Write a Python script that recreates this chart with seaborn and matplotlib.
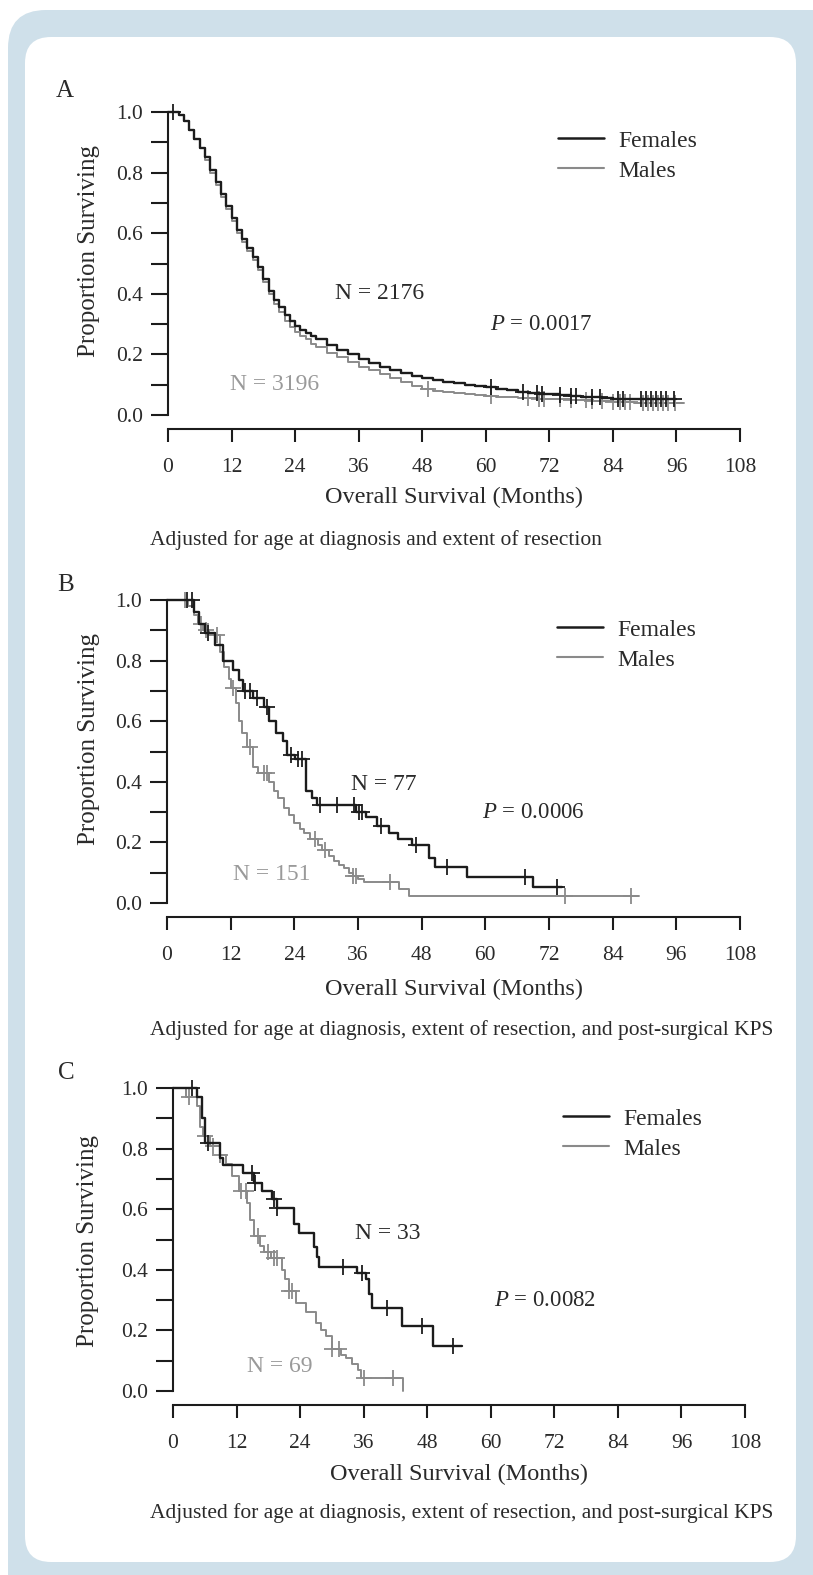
import numpy as np
import pandas as pd
import matplotlib
matplotlib.use("Agg")
import matplotlib.pyplot as plt
import seaborn as sns
from matplotlib.lines import Line2D
from matplotlib.patches import FancyBboxPatch
from matplotlib.transforms import IdentityTransform

# ---- data (months, proportion surviving) ----
# Panel A
A_F_t = [0, 2, 3, 4, 5, 6, 7, 8, 9, 10, 11, 12, 13, 14, 15, 16, 17, 18, 19, 20, 21, 22, 23, 24, 25, 26, 27, 28,
         30, 32, 34, 36, 38, 40, 42, 44, 46, 48, 50, 52, 54, 56, 58, 60, 62, 64, 66, 68, 70, 72, 74, 76, 78, 80,
         82, 84, 96]
A_F_s = [1.0, 0.99, 0.97, 0.94, 0.91, 0.88, 0.85, 0.81, 0.77, 0.73, 0.69, 0.65, 0.61, 0.58, 0.55, 0.52, 0.49,
         0.45, 0.41, 0.38, 0.355, 0.33, 0.31, 0.295, 0.28, 0.27, 0.26, 0.25,
         0.23, 0.215, 0.20, 0.185, 0.172, 0.16, 0.148, 0.137, 0.13, 0.123, 0.117, 0.11, 0.104, 0.099, 0.095,
         0.091, 0.087, 0.082, 0.077, 0.073, 0.070, 0.068, 0.066, 0.063, 0.060, 0.058, 0.055, 0.053, 0.053]
A_F_cens = [1, 61, 67, 69.6, 70.6, 74, 76, 77, 80, 81.5, 85, 86, 89.3, 90.3, 91.2, 92.2, 93.1, 94.1, 95.6]
A_M_t = [0, 2, 3, 4, 5, 6, 7, 8, 9, 10, 11, 12, 13, 14, 15, 16, 17, 18, 19, 20, 21, 22, 23, 24, 25, 26, 27, 28,
         30, 32, 34, 36, 38, 40, 42, 44, 46, 48, 50, 52, 54, 56, 58, 60, 62, 64, 66, 68, 70, 72,
         76, 80, 84, 88, 97.5]
A_M_s = [1.0, 0.99, 0.97, 0.94, 0.91, 0.88, 0.84, 0.80, 0.76, 0.72, 0.68, 0.64, 0.60, 0.57, 0.54, 0.51, 0.48,
         0.44, 0.40, 0.365, 0.34, 0.31, 0.29, 0.275, 0.26, 0.25, 0.235, 0.225,
         0.205, 0.19, 0.175, 0.16, 0.147, 0.135, 0.122, 0.109, 0.097, 0.085, 0.079, 0.075, 0.072, 0.068, 0.065,
         0.062, 0.060, 0.058, 0.057, 0.056, 0.054, 0.052,
         0.050, 0.046, 0.042, 0.040, 0.040]
A_M_cens = [49, 61, 68, 70, 71, 74, 76, 79, 80, 82, 84, 85.3, 86.2, 87.2, 89.6, 90.6, 91.5, 92.5, 93.4, 94.4, 95.8]

# Panel B
B_F_t = [0, 5.0, 6.0, 7.2, 9.0, 10.5, 12.5, 13.5, 14.3, 16.2, 18.2, 19.3, 20.5, 21.8, 22.6, 24.2, 26.2, 27.4,
         28.2, 35.7, 37.5, 39.5, 41.8, 43.6, 46.2, 49.3, 50.5, 56.6, 69.0, 74.5]
B_F_s = [1.0, 0.96, 0.92, 0.89, 0.85, 0.80, 0.77, 0.735, 0.70, 0.675, 0.647, 0.60, 0.56, 0.535, 0.49, 0.475,
         0.37, 0.345, 0.325, 0.30, 0.285, 0.255, 0.23, 0.21, 0.19, 0.15, 0.12, 0.086, 0.053, 0.053]
B_F_cens = [3.7, 4.7, 7.8, 14.7, 15.7, 17, 18.9, 23.3, 24.6, 25.5, 28.9, 32, 35.2, 36.1, 36.7, 40.3, 47,
            52.7, 67.5, 73.6]
B_M_t = [0, 4.0, 5.0, 5.8, 6.8, 8.0, 10.0, 10.8, 11.6, 12.0, 13.0, 13.6, 14.2, 15.0, 16.2, 17.2, 19.2, 20.1,
         21.0, 22.0, 23.0, 23.9, 25.0, 25.8, 27.0, 28.4, 29.2, 30.5, 31.5, 32.5, 33.4, 34.3, 35.0, 36.0, 37.2,
         43.8, 45.6, 88.9]
B_M_s = [1.0, 0.98, 0.95, 0.92, 0.90, 0.885, 0.83, 0.78, 0.74, 0.71, 0.66, 0.60, 0.56, 0.515, 0.45, 0.43,
         0.40, 0.37, 0.345, 0.315, 0.29, 0.265, 0.245, 0.23, 0.21, 0.19, 0.175, 0.155, 0.14, 0.125, 0.115,
         0.10, 0.09, 0.08, 0.07, 0.045, 0.022, 0.022]
B_M_cens = [3.4, 6.5, 7.4, 9.4, 12.4, 15.7, 18.2, 18.9, 27.9, 29.8, 35.0, 35.6, 42.0, 75.0, 87.4]

# Panel C
C_F_t = [0, 4.5, 5.4, 6.1, 8.9, 9.5, 13.3, 15.2, 16.8, 18.7, 19.7, 22.8, 23.8, 26.6, 27.2, 27.6, 34.8, 36.5,
         37.0, 37.5, 43.2, 49.0, 54.5]
C_F_s = [1.0, 0.97, 0.90, 0.82, 0.77, 0.745, 0.72, 0.686, 0.66, 0.635, 0.605, 0.55, 0.52, 0.475, 0.443, 0.41,
         0.39, 0.37, 0.32, 0.275, 0.215, 0.147, 0.147]
C_F_cens = [3.6, 6.7, 14.9, 15.5, 19.0, 19.7, 32.1, 35.6, 40.4, 47.0, 52.8]
C_M_t = [0, 2.5, 4.5, 5.1, 5.7, 7.0, 8.8, 10.0, 11.2, 12.5, 14.0, 14.6, 15.2, 16.5, 17.2, 18.5, 20.6, 21.2,
         21.9, 23.2, 25.1, 27.0, 28.0, 28.9, 30.0, 31.8, 32.7, 33.8, 34.9, 35.5, 43.4]
C_M_s = [1.0, 0.97, 0.94, 0.87, 0.84, 0.81, 0.78, 0.75, 0.71, 0.66, 0.62, 0.565, 0.51, 0.48, 0.46, 0.44, 0.40,
         0.37, 0.33, 0.29, 0.26, 0.225, 0.20, 0.18, 0.14, 0.12, 0.11, 0.09, 0.07, 0.043, 0.0]
C_M_cens = [3.0, 6.1, 7.5, 8.8, 12.8, 13.7, 16.1, 17.9, 19.0, 19.7, 21.9, 22.5, 30.0, 31.4, 36.0, 41.5]

n_females = ["N = 2176", "N = 77", "N = 33"]
n_males = ["N = 3196", "N = 151", "N = 69"]
p_values = ["0.0017", "0.0006", "0.0082"]
captions = ["Adjusted for age at diagnosis and extent of resection",
            "Adjusted for age at diagnosis, extent of resection, and post-surgical KPS",
            "Adjusted for age at diagnosis, extent of resection, and post-surgical KPS"]
x_ticks = list(range(0, 109, 12))
y_ticks = [0.0, 0.2, 0.4, 0.6, 0.8, 1.0]

# ---- style ----
sns.set_style("ticks")
plt.rcParams['font.family'] = ['Liberation Serif', 'DejaVu Serif']
plt.rcParams['mathtext.fontset'] = 'custom'
plt.rcParams['mathtext.rm'] = 'Liberation Serif'
plt.rcParams['mathtext.it'] = 'Liberation Serif:italic'

BLACK = '#1c1c1c'
GRAY = '#8a8a8a'
TEXT = '#2a2a2a'
BLUE = '#cfe0ea'

W, H = 813, 1575
fig = plt.figure(figsize=(W / 100, H / 100), dpi=100)
fig.patch.set_facecolor('white')

# rounded frame (pixel coords, origin bottom-left)
fig.add_artist(FancyBboxPatch((8, -60), 900, H - 10 + 60, boxstyle="round,pad=0,rounding_size=38",
                              transform=IdentityTransform(), facecolor=BLUE, edgecolor='none', zorder=-20))
fig.add_artist(FancyBboxPatch((25, H - 1562), 771, 1525, boxstyle="round,pad=0,rounding_size=26",
                              transform=IdentityTransform(), facecolor='white', edgecolor='none', zorder=-19))


def px_rect(x0, y0, x1, y1):
    return [x0 / W, 1 - y1 / H, (x1 - x0) / W, (y1 - y0) / H]


def km_at(t, s, c):
    idx = np.searchsorted(np.asarray(t), np.asarray(c), side='right') - 1
    return np.asarray(s)[idx]


panels = [
    dict(letter='A', letter_xy=(65, 91), box=(168, 112, 740, 415),
         fem=(A_F_t, A_F_s, A_F_cens), male=(A_M_t, A_M_s, A_M_cens),
         n_f_xy=(40, 0.40), n_m_xy=(20.2, 0.10), p_xy=(70.4, 0.30),
         leg_xy=(558, 130), ylab=(89, 251), xlab_y=497, cap_y=540),
    dict(letter='B', letter_xy=(66, 585), box=(167, 600, 740, 903),
         fem=(B_F_t, B_F_s, B_F_cens), male=(B_M_t, B_M_s, B_M_cens),
         n_f_xy=(40.8, 0.39), n_m_xy=(19.8, 0.095), p_xy=(69, 0.30),
         leg_xy=(557, 619), ylab=(89, 739), xlab_y=989, cap_y=1030),
    dict(letter='C', letter_xy=(66, 1073), box=(173, 1088, 745, 1391),
         fem=(C_F_t, C_F_s, C_F_cens), male=(C_M_t, C_M_s, C_M_cens),
         n_f_xy=(40.6, 0.52), n_m_xy=(20.2, 0.08), p_xy=(70.2, 0.30),
         leg_xy=(563, 1108), ylab=(88, 1241), xlab_y=1474, cap_y=1513),
]

for i, p in enumerate(panels):
    x0, y0, x1, y1 = p['box']
    ax = fig.add_axes(px_rect(x0, y0, x1, y1))
    ax.set_facecolor('none')

    for (t, s, cens), color, lw in [(p['male'], GRAY, 1.4), (p['fem'], BLACK, 1.7)]:
        df = pd.DataFrame({'month': t, 'surv': s})
        sns.lineplot(data=df, x='month', y='surv', ax=ax, color=color, linewidth=lw,
                     drawstyle='steps-post', estimator=None, sort=False)
        ax.plot(cens, km_at(t, s, cens), linestyle='none', marker='+', ms=11, mew=1.3,
                color=color, clip_on=False)
    for ln in ax.lines:
        ln.set_clip_on(False)

    ax.set_xlim(0, 108)
    ax.set_ylim(0, 1.0)
    ax.set_xticks(x_ticks)
    ax.set_yticks(y_ticks)
    ax.set_yticks([0.1, 0.3, 0.5, 0.7, 0.9], minor=True)
    ax.set_yticklabels([f"{v:.1f}" for v in y_ticks])
    sns.despine(ax=ax)
    ax.spines['bottom'].set_position(('outward', 10))
    for side in ['left', 'bottom']:
        ax.spines[side].set_linewidth(1.5)
        ax.spines[side].set_color(BLACK)
    ax.tick_params(axis='y', which='both', length=12, width=1.5, direction='out', color=BLACK,
                   labelsize=15.5, labelcolor=TEXT, pad=6)
    ax.tick_params(axis='x', length=9.5, width=1.5, direction='out', color=BLACK,
                   labelsize=15.5, labelcolor=TEXT, pad=11.5)

    ax.set_xlabel("Overall Survival (Months)", fontsize=17.5, color=TEXT)
    ax.xaxis.set_label_coords(0.5, (y1 - p['xlab_y']) / (y1 - y0))
    ax.xaxis.label.set_verticalalignment('center')
    ax.set_ylabel("Proportion Surviving", fontsize=18, color=TEXT)
    ax.yaxis.set_label_coords((p['ylab'][0] - x0) / (x1 - x0), (y1 - p['ylab'][1]) / (y1 - y0))
    ax.yaxis.label.set_verticalalignment('center')

    ax.text(*p['n_f_xy'], n_females[i], ha='center', va='center', fontsize=17, color=TEXT)
    ax.text(*p['n_m_xy'], n_males[i], ha='center', va='center', fontsize=17, color='#9a9a9a')
    ax.text(*p['p_xy'], r'$\mathit{P}$ = ' + p_values[i], ha='center', va='center', fontsize=16.5, color=TEXT)

    handles = [Line2D([], [], color=BLACK, lw=1.8), Line2D([], [], color=GRAY, lw=1.5)]
    lx, ly = p['leg_xy']
    ax.legend(handles, ["Females", "Males"], loc='upper left', bbox_to_anchor=(lx / W, 1 - ly / H),
              bbox_transform=fig.transFigure, frameon=False, fontsize=17, handlelength=1.95,
              handletextpad=0.6, labelspacing=0.36, borderpad=0, borderaxespad=0, labelcolor=TEXT)

    fig.text(p['letter_xy'][0] / W, 1 - p['letter_xy'][1] / H, p['letter'], ha='center', va='center',
             fontsize=18, color=TEXT)
    fig.text(150 / W, 1 - p['cap_y'] / H, captions[i], ha='left', va='center', fontsize=15.5, color=TEXT)

fig.savefig("out.png", dpi=100, facecolor=fig.get_facecolor())
